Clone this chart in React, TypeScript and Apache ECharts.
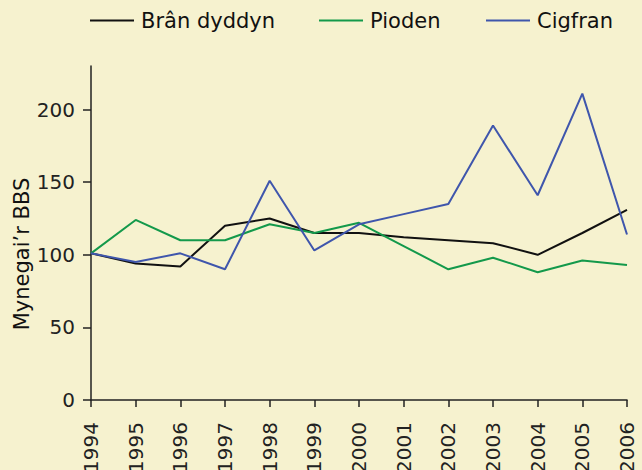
import React, { useEffect, useRef } from "react";
import * as echarts from "echarts";

const years = ["1994","1995","1996","1997","1998","1999","2000","2001","2002","2003","2004","2005","2006"];
const branDyddyn = [101, 94, 92, 120, 125, 115, 115, 112, 110, 108, 100, 115, 131];
const pioden = [101, 124, 110, 110, 121, 115, 122, 106, 90, 98, 88, 96, 93];
const cigfran = [101, 95, 101, 90, 151, 103, 121, 128, 135, 189, 141, 211, 114];
const yTicks = [0, 50, 100, 150, 200];
const seriesNames = ["Brân dyddyn", "Pioden", "Cigfran"];
const yAxisTitle = "Mynegai’r BBS";

export default function App() {
  const ref = useRef<HTMLDivElement>(null);
  useEffect(() => {
    if (!ref.current) return;
    const chart = echarts.init(ref.current, undefined, { renderer: "svg" });
    const font = "'DejaVu Sans', sans-serif";
    const axisColor = "#222";
    const mk = (name: string, data: number[], color: string) => ({
      name,
      type: "line",
      data,
      symbol: "none",
      lineStyle: { color, width: 2 },
      itemStyle: { color },
    });
    const legendLefts = [90, 319, 486];
    chart.setOption({
      animation: false,
      backgroundColor: "#f6f2cf",
      textStyle: { fontFamily: font },
      legend: seriesNames.map((n, i) => ({
        left: legendLefts[i],
        top: 10,
        padding: 0,
        icon: "rect",
        itemWidth: 44,
        itemHeight: 2,
        textStyle: { fontFamily: font, fontSize: 21, color: "#111", padding: [0, 0, 0, 2] },
        data: [n],
      })),
      graphic: [
        {
          type: "text",
          x: 22,
          y: 254,
          rotation: Math.PI / 2,
          style: {
            text: yAxisTitle,
            fontFamily: font,
            fontSize: 21,
            fill: "#111",
            align: "center",
            verticalAlign: "middle",
          },
        },
      ],
      grid: { left: 91, right: 15, top: 66, bottom: 70, containLabel: false, outerBoundsMode: "none" },
      xAxis: {
        type: "category",
        data: years,
        boundaryGap: false,
        axisLine: { lineStyle: { color: axisColor, width: 1.5 } },
        axisTick: { alignWithLabel: true, length: 7, lineStyle: { color: axisColor, width: 1.5 } },
        axisLabel: { rotate: 90, margin: 22, fontSize: 20, color: "#222", fontFamily: font, interval: 0 },
        splitLine: { show: false },
      },
      yAxis: {
        type: "value",
        min: 0,
        max: 230,
        interval: 50,
        axisLine: { show: true, lineStyle: { color: axisColor, width: 1.5 } },
        axisTick: { show: true, length: 8, customValues: yTicks, lineStyle: { color: axisColor, width: 1.5 } },
        axisLabel: { margin: 16, fontSize: 20, color: "#222", fontFamily: font, customValues: yTicks },
        splitLine: { show: false },
      },
      series: [
        mk(seriesNames[0], branDyddyn, "#111111"),
        mk(seriesNames[1], pioden, "#13994b"),
        mk(seriesNames[2], cigfran, "#3f56ac"),
      ],
    });
    return () => chart.dispose();
  }, []);
  return <div ref={ref} style={{ position: "fixed", left: 0, top: 0, width: 642, height: 470 }} />;
}
